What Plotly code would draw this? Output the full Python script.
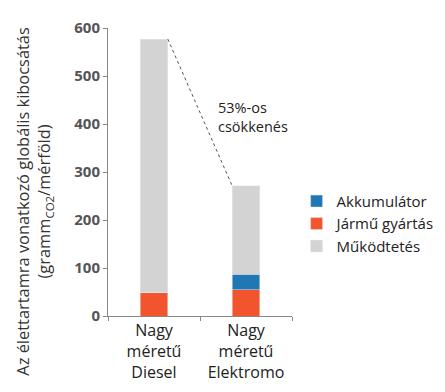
import plotly.graph_objects as go

categories = ["Nagy<br>méretű<br>Diesel", "Nagy<br>méretű<br>Elektromo"]
jarmu_gyartas = [50, 55]
akkumulator = [0, 32]
mukodtetes = [527, 184]
y_ticks = [0, 100, 200, 300, 400, 500, 600]

BAR_W = 0.3
totals = [a + b + c for a, b, c in zip(jarmu_gyartas, akkumulator, mukodtetes)]

fig = go.Figure()
fig.add_trace(go.Bar(x=categories, y=jarmu_gyartas, name="Jármű gyártás",
                     marker_color="#F2542D", width=BAR_W, legendrank=2))
fig.add_trace(go.Bar(x=categories, y=akkumulator, name="Akkumulátor",
                     marker_color="#1F77B4", width=BAR_W, legendrank=1))
fig.add_trace(go.Bar(x=categories, y=mukodtetes, name="Működtetés",
                     marker_color="#D3D3D3", width=BAR_W, legendrank=3))

fig.add_shape(type="line", xref="x", yref="y",
              x0=0 + BAR_W / 2, y0=totals[0], x1=1 - BAR_W / 2, y1=totals[1],
              line=dict(color="#555555", width=1, dash="dot"))

fig.add_annotation(x=0.67, y=415, xref="x", yref="y", xanchor="left", yanchor="middle",
                   text="53%-os<br>csökkenés", showarrow=False, align="left",
                   font=dict(size=14.5, color="#222222"))

fig.add_annotation(x=-0.403, y=0.400, xref="paper", yref="paper",
                   xanchor="center", yanchor="middle", textangle=-90, showarrow=False,
                   text="Az élettartamra vonatkozó globális kibocsátás<br>(gramm<sub>CO2</sub>/mérföld)",
                   font=dict(size=16.4, color="#333333"))

fig.update_layout(
    barmode="stack",
    width=437, height=384,
    margin=dict(l=100, r=153, t=20, b=76, autoexpand=False),
    plot_bgcolor="white", paper_bgcolor="white",
    font=dict(family="Open Sans", color="#222222"),
    bargap=0.7,
    legend=dict(x=1.025, y=0.32, xanchor="left", yanchor="middle",
                traceorder="normal", font=dict(size=15, color="#222222"),
                itemwidth=30, tracegroupgap=0),
    showlegend=True,
)
fig.update_xaxes(type="category", tickson="boundaries", ticks="outside", ticklen=4,
                 tickcolor="#888888", showline=True, linecolor="#888888", linewidth=1,
                 tickfont=dict(size=16, color="#222222"), range=[-0.5, 1.5],
                 automargin=False)
fig.update_yaxes(range=[0, 600], tickvals=y_ticks, ticks="outside", ticklen=4,
                 tickcolor="#888888", showline=True, linecolor="#888888", linewidth=1,
                 showgrid=False, zeroline=False, automargin=False,
                 tickfont=dict(size=15, color="#555555", family="Open Sans", weight="bold"))

fig.write_html("out.html")
